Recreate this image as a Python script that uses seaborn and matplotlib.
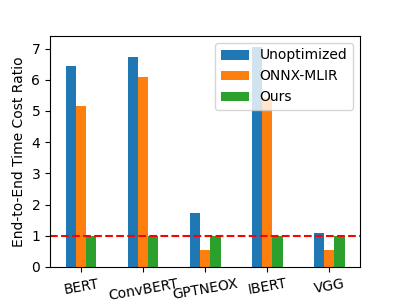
import pandas as pd
import matplotlib
matplotlib.use("Agg")
import matplotlib.pyplot as plt
import seaborn as sns

# ---------------- DATA ---------------- #

models = ["BERT", "ConvBERT", "GPTNEOX", "IBERT", "VGG"]
unoptimized = [6.45, 6.74, 1.74, 7.05, 1.10]
onnx_mlir = [5.16, 6.10, 0.53, 5.40, 0.55]
ours = [1.0, 1.0, 1.0, 1.0, 1.0]

methods = ["Unoptimized", "ONNX-MLIR", "Ours"]

df = pd.DataFrame({
    "model": models * 3,
    "method": [m for m in methods for _ in models],
    "ratio": unoptimized + onnx_mlir + ours,
})

# ---------------- PLOT ---------------- #

fig, ax = plt.subplots(figsize=(4, 3), dpi=100)

sns.barplot(data=df, x="model", y="ratio", hue="method",
            order=models, hue_order=methods,
            palette=["#1f77b4", "#ff7f0e", "#2ca02c"],
            saturation=1, width=0.5, gap=0, linewidth=0,
            errorbar=None, ax=ax)

ax.axhline(1, color="red", linestyle="--")

ax.set_xlabel("")
ax.set_ylabel("End-to-End Time Cost Ratio")
ax.set_xlim(-0.5, len(models) - 0.5)
ax.tick_params(axis="x", labelrotation=10)
ax.legend(loc="upper right")

fig.savefig("out.png")
